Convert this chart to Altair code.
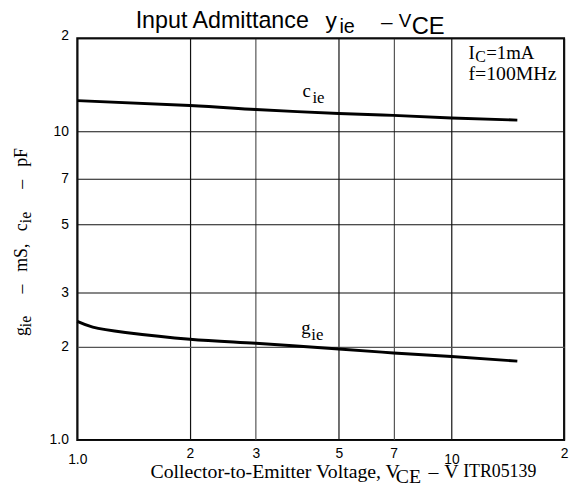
import altair as alt
import pandas as pd

# ---- data ----
c_v = [1, 2, 3, 5, 7, 10, 15]
c_ie = [12.56, 12.11, 11.76, 11.41, 11.25, 11.03, 10.86]
g_v = [1, 1.1, 1.345, 2, 3, 5, 7, 10, 15]
g_ie = [2.42, 2.32, 2.23, 2.12, 2.056, 1.971, 1.914, 1.863, 1.80]
tick_vals = [1, 2, 3, 5, 7, 10, 20]
tick_labels = ["1.0", "2", "3", "5", "7", "10", "2"]

# ---- layout ----
PL, PT, PR, PB = 70, 28, 8, 46
W, H = 492, 406
OX, OY = 8 + PL, 8 + PT  # page coords of plot origin

df = pd.DataFrame({
    "V": c_v + g_v,
    "val": c_ie + g_ie,
    "series": ["c"] * len(c_v) + ["g"] * len(g_v),
})

label_expr = "'" + tick_labels[-1] + "'"
for v, l in reversed(list(zip(tick_vals[:-1], tick_labels[:-1]))):
    label_expr = f"datum.value == {v} ? '{l}' : ({label_expr})"

xs = alt.Scale(type="log", domain=[1, 20], nice=False)
ys = alt.Scale(type="log", domain=[1, 20], nice=False)

xaxis = alt.Axis(
    values=tick_vals, labelExpr=label_expr, title=None, grid=True,
    gridColor={"condition": {"test": "datum.value == 3 || datum.value == 7", "value": "#555"}, "value": "#111"},
    gridWidth=1.2, ticks=False, domain=False, labelFont="Liberation Sans",
    labelFontSize=14, labelColor="black", labelFlush=False,
    labelPadding={"condition": {"test": "datum.value == 1 || datum.value == 10", "value": 13}, "value": 7},
)
yaxis = alt.Axis(
    values=tick_vals, labelExpr=label_expr, title=None, grid=True,
    gridColor={"condition": {"test": "datum.value == 2", "value": "#555"}, "value": "#111"},
    gridWidth=1.2, ticks=False, domain=False, labelFont="Liberation Sans",
    labelFontSize=14, labelColor="black", labelPadding=9, labelFlush=False,
    labelOffset={"condition": {"test": "datum.value == 20", "value": -3}, "value": 0},
)

xenc = alt.X("V:Q", scale=xs, axis=xaxis)
yenc = alt.Y("val:Q", scale=ys, axis=yaxis)

lines = alt.Chart(df).mark_line(color="black", strokeWidth=3, interpolate="natural").encode(
    x=xenc, y=yenc, detail="series:N"
)


def dtxt(s, v, val, size, dx=0, dy=0, font="Liberation Serif"):
    return alt.Chart(pd.DataFrame({"V": [v], "val": [val]})).mark_text(
        text=s, fontSize=size, font=font, align="left", baseline="alphabetic",
        dx=dx, dy=dy, color="black"
    ).encode(x=xenc, y=yenc)


def ptxt(s, px, py, size, font="Liberation Serif", angle=0):
    return alt.Chart(alt.Data(values=[{}])).mark_text(
        text=s, fontSize=size, font=font, align="left", baseline="alphabetic",
        angle=angle, color="black"
    ).encode(x=alt.value(px - OX), y=alt.value(py - OY))


layers = [lines]
# in-plot labels (anchored in data space)
layers += [
    dtxt("c", 4.0, 12.9, 19), dtxt("ie", 4.0, 12.9, 17, dx=10, dy=6),
    dtxt("g", 3.97, 2.21, 19), dtxt("ie", 3.97, 2.21, 17, dx=10, dy=6),
    dtxt("I", 11.1, 17.1, 19), dtxt("C", 11.1, 17.1, 16, dx=7, dy=3),
    dtxt("=1mA", 11.1, 17.1, 19, dx=18),
    dtxt("f=100MHz", 11.1, 14.6, 20),
]
# chart title
SF = "Liberation Sans"
layers += [
    ptxt("Input Admittance", 137, 26, 23.5, SF),
    ptxt("y", 329, 26, 23, SF), ptxt("ie", 343, 31, 20, SF),
    ptxt("\u2013", 385, 27, 21, SF),
    ptxt("V", 403, 25, 19, SF), ptxt("CE", 416, 32, 24, SF),
]
# x-axis title
layers += [
    ptxt("Collector-to-Emitter Voltage, V", 152, 480, 20),
    ptxt("CE", 400, 485, 20),
    ptxt("\u2013", 433, 480, 20),
    ptxt("V", 449, 480, 20),
    ptxt("ITR05139", 468, 479, 18),
]
# y-axis title (rotated)
layers += [
    ptxt("g", 27, 337, 18, angle=270), ptxt("ie", 31, 328, 16, angle=270),
    ptxt("\u2013", 27, 294, 18, angle=270),
    ptxt("mS,", 27, 272, 18, angle=270),
    ptxt("c", 27, 231, 18, angle=270), ptxt("ie", 31, 223, 16, angle=270),
    ptxt("\u2013", 27, 188, 18, angle=270),
    ptxt("pF", 27, 166, 18, angle=270),
]

chart = alt.layer(*layers).properties(
    width=W, height=H,
    autosize=alt.AutoSizeParams(type="none"),
    padding={"left": PL, "top": PT, "right": PR, "bottom": PB},
    background="white",
).configure_view(stroke="black", strokeWidth=2)

chart.save("out.html", embed_options={"renderer": "svg", "actions": False})
